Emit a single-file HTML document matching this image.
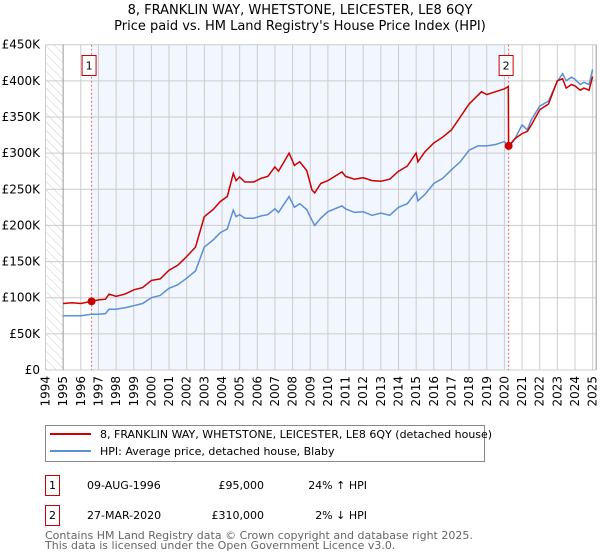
<!DOCTYPE html>
<html><head><meta charset="utf-8"><style>
body{margin:0;background:#fff;}
svg{display:block;font-family:"DejaVu Sans","Liberation Sans",sans-serif;}
</style></head><body>
<svg id="chart" width="600" height="560" viewBox="0 0 600 560">
<defs><pattern id="hatch" width="6" height="6" patternUnits="userSpaceOnUse" patternTransform="rotate(-45)"><line x1="0" y1="0" x2="0" y2="6" stroke="#ccc" stroke-width="1"/></pattern></defs>
<text x="300" y="14" text-anchor="middle" font-size="13">8, FRANKLIN WAY, WHETSTONE, LEICESTER, LE8 6QY</text>
<text x="300" y="30" text-anchor="middle" font-size="13">Price paid vs. HM Land Registry's House Price Index (HPI)</text>
<g id="plot"></g>
<g>
<rect x="45.5" y="425.5" width="439" height="36" fill="#fff" stroke="#888"/>
<line x1="50" y1="434" x2="91" y2="434" stroke="#cc0000" stroke-width="2"/>
<text x="100" y="438" font-size="11">8, FRANKLIN WAY, WHETSTONE, LEICESTER, LE8 6QY (detached house)</text>
<line x1="50" y1="451" x2="91" y2="451" stroke="#5b8fd6" stroke-width="2"/>
<text x="100" y="455" font-size="11">HPI: Average price, detached house, Blaby</text>
</g>
<g font-size="11">
<rect x="45.5" y="475.5" width="14" height="20" fill="#fff" stroke="#cc0000"/>
<text x="52.5" y="489" text-anchor="middle">1</text>
<text x="87" y="489">09-AUG-1996</text>
<text x="264" y="489" text-anchor="end">£95,000</text>
<text x="367" y="489" text-anchor="end">24% ↑ HPI</text>
<rect x="45.5" y="505.5" width="14" height="20" fill="#fff" stroke="#cc0000"/>
<text x="52.5" y="519" text-anchor="middle">2</text>
<text x="87" y="519">27-MAR-2020</text>
<text x="264" y="519" text-anchor="end">£310,000</text>
<text x="367" y="519" text-anchor="end">2% ↓ HPI</text>
</g>
<text x="45" y="539" font-size="11" fill="#666">Contains HM Land Registry data © Crown copyright and database right 2025.</text>
<text x="45" y="549" font-size="11" fill="#666">This data is licensed under the Open Government Licence v3.0.</text>
</svg>
<script>
const yearTicks=[1994,1995,1996,1997,1998,1999,2000,2001,2002,2003,2004,2005,2006,2007,2008,2009,2010,2011,2012,2013,2014,2015,2016,2017,2018,2019,2020,2021,2022,2023,2024,2025];
const valueTicks=[0,50000,100000,150000,200000,250000,300000,350000,400000,450000];
const valueTickLabels=["£0","£50K","£100K","£150K","£200K","£250K","£300K","£350K","£400K","£450K"];
const hpiYears=[1995,1995.5,1996,1996.6,1997,1997.4,1997.6,1998,1998.5,1999,1999.5,2000,2000.5,2001,2001.5,2002,2002.5,2003,2003.5,2003.9,2004.3,2004.64,2004.8,2005,2005.3,2005.8,2006.2,2006.6,2007,2007.2,2007.8,2008.1,2008.4,2008.8,2009.1,2009.25,2009.6,2010,2010.8,2011,2011.5,2012,2012.5,2013,2013.5,2014,2014.5,2015,2015.1,2015.5,2016,2016.5,2017,2017.5,2018,2018.5,2019,2019.5,2020,2020.24,2020.6,2021,2021.3,2021.5,2022,2022.5,2023,2023.3,2023.5,2023.8,2024,2024.3,2024.5,2024.8,2025];
const hpiValues=[75000,75000,75000,77000,77000,78000,84000,84000,86000,89000,92000,100000,103000,113000,118000,127000,137000,170000,180000,190000,195000,221000,212000,215000,210000,210000,213000,215000,223000,218000,240000,225000,230000,222000,207000,200000,210000,219000,227000,223000,218000,219000,214000,217000,214000,225000,230000,246000,234000,243000,258000,265000,277000,288000,304000,310000,310000,312000,316000,308000,320000,339000,332000,345000,365000,372000,399000,410000,400000,405000,402000,395000,398000,395000,416000];
const priceYears=[1995,1995.5,1996,1996.61,1997,1997.4,1997.6,1998,1998.5,1999,1999.5,2000,2000.5,2001,2001.5,2002,2002.5,2003,2003.5,2003.9,2004.3,2004.64,2004.8,2005,2005.3,2005.8,2006.2,2006.6,2007,2007.2,2007.8,2008.1,2008.4,2008.8,2009.1,2009.25,2009.6,2010,2010.8,2011,2011.5,2012,2012.5,2013,2013.5,2014,2014.5,2015,2015.1,2015.5,2016,2016.5,2017,2017.5,2018,2018.7,2019,2019.5,2020,2020.22,2020.24,2020.6,2021,2021.3,2021.5,2022,2022.5,2023,2023.3,2023.5,2023.8,2024,2024.3,2024.5,2024.8,2025];
const priceValues=[92000,93000,92000,95000,97000,98000,105000,102000,105000,111000,114000,124000,126000,138000,145000,157000,170000,212000,222000,233000,240000,272000,262000,267000,260000,260000,265000,268000,281000,275000,300000,283000,288000,276000,249000,245000,258000,262000,274000,268000,264000,266000,262000,261000,264000,275000,282000,300000,288000,302000,314000,322000,332000,350000,368000,385000,381000,385000,389000,392000,310000,320000,327000,330000,338000,360000,368000,400000,403000,390000,395000,393000,387000,390000,387000,406000];
const sales=[{year:1996.61,value:95000,label:"1"},{year:2020.24,value:310000,label:"2"}];
const x=y=>45.5+(y-1994)*17.65;
const yv=v=>370-v*325.3/450000;
const NS="http://www.w3.org/2000/svg";
const plot=document.getElementById('plot');
function mk(t,a,parent){const e=document.createElementNS(NS,t);for(const k in a)e.setAttribute(k,a[k]);(parent||plot).appendChild(e);return e;}
const bg=mk('rect',{x:x(1994),y:yv(450000),width:x(2025.2)-x(1994),height:yv(0)-yv(450000),fill:'#fff'});


const hatch=mk('rect',{x:x(1994),y:yv(450000),width:x(1995)-x(1994),height:yv(0)-yv(450000),fill:'url(#hatch)'});


const shade=mk('rect',{x:x(sales[0].year),y:yv(450000),width:x(sales[1].year)-x(sales[0].year),height:yv(0)-yv(450000),fill:'#f2f6fe'});


valueTicks.forEach((v,i)=>{
 const l=mk('line',{x1:x(1994),x2:x(2025.2),y1:yv(v),y2:yv(v),stroke:'#ccc'});
 
 
 const t=mk('text',{x:40,y:yv(v)+4,'text-anchor':'end','font-size':12});
 t.textContent=valueTickLabels[i];
 
 
});
yearTicks.forEach(yr=>{
 const l=mk('line',{x1:x(yr),x2:x(yr),y1:yv(450000),y2:yv(0),stroke:yr==1995?'#999':'#ccc'});
 
 
 const t=mk('text',{x:0,y:0,'text-anchor':'end','font-size':12,transform:`translate(${x(yr)+4},${yv(0)+6}) rotate(-90)`});
 t.textContent=yr;
 
 
});
const ax=mk('line',{x1:x(2025.2),x2:x(2025.2),y1:yv(450000),y2:yv(0),stroke:'#999'});


sales.forEach(s=>{
 const l=mk('line',{x1:x(s.year),x2:x(s.year),y1:yv(450000),y2:yv(0),stroke:'#e66','stroke-dasharray':'2,2'});
 
 
});
const hp=mk('path',{d:'M'+hpiYears.map((yr,i)=>x(yr).toFixed(1)+','+yv(hpiValues[i]).toFixed(1)).join('L'),fill:'none',stroke:'#5b8fd6','stroke-width':1.5});


const pp=mk('path',{d:'M'+priceYears.map((yr,i)=>x(yr).toFixed(1)+','+yv(priceValues[i]).toFixed(1)).join('L'),fill:'none',stroke:'#cc0000','stroke-width':1.5});


sales.forEach(s=>{
 const c=mk('circle',{cx:x(s.year),cy:yv(s.value),r:4,fill:'#cc0000'});
 
 
 const r=mk('rect',{x:x(s.year)-9.5,y:55.5,width:14,height:20,fill:'#fff',stroke:'#cc0000'});
 
 
 const t=mk('text',{x:x(s.year)-2.5,y:69.5,'text-anchor':'middle','font-size':11});
 t.textContent=s.label;
 
 
});
</script>
</body></html>
